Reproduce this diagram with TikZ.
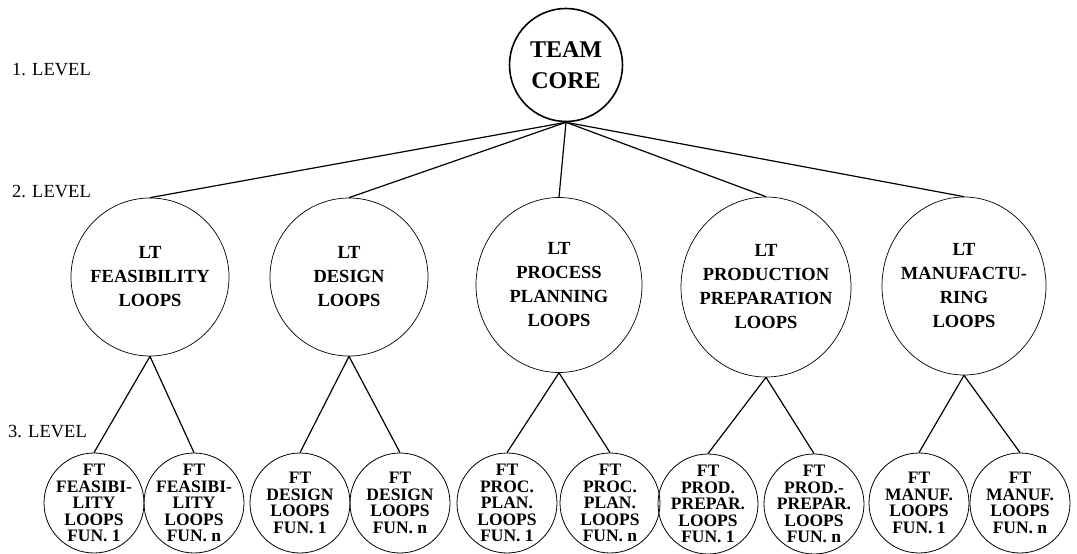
\documentclass[tikz,border=0pt]{standalone}
\usepackage{fontspec}
\setmainfont{Liberation Serif}
\usetikzlibrary{shapes.geometric, positioning}

\begin{document}
\begin{tikzpicture}[
			x=1pt, y=-1pt,
			coreblock/.style = {circle, draw, line width=1.6pt, minimum size=113pt,
					inner sep=0pt, align=center, font=\bfseries\fontsize{24}{31}\selectfont},
			ltblock/.style = {ellipse, draw, line width=0.7pt, inner sep=0pt, inner xsep=-20pt,
					align=center, font=\bfseries\fontsize{18.5}{24}\selectfont},
			ftblock/.style = {circle, draw, line width=0.8pt, minimum size=100pt,
					inner sep=-8pt, align=center, font=\bfseries\fontsize{17.5}{16.5}\selectfont},
			levellabel/.style = {anchor=west, inner sep=0pt, font=\fontsize{18.5}{22}\selectfont},
			line/.style = {draw, line width=1.2pt},
		]
		\useasboundingbox (0,0) rectangle (1077,554);

		% Level labels
		\node [levellabel] (lev1) at (12,70) {1. LEVEL};
		\node [levellabel] (lev2) at (12,192) {2. LEVEL};
		\node [levellabel] (lev3) at (8,432) {3. LEVEL};

		% Team core
		\node [coreblock] (core) at (566,65) {TEAM\\CORE};

		% LT loops
		\node [ltblock, minimum width=158pt, minimum height=158pt] (feas) at (150,277) {LT\\FEASIBILITY\\LOOPS};
		\node [ltblock, minimum width=158pt, minimum height=158pt] (design) at (349,277) {LT\\DESIGN\\LOOPS};
		\node [ltblock, minimum width=166pt, minimum height=175pt] (proc) at (559,285) {LT\\PROCESS\\PLANNING\\LOOPS};
		\node [ltblock, minimum width=170pt, minimum height=180pt] (prod) at (766,287) {LT\\PRODUCTION\\PREPARATION\\LOOPS};
		\node [ltblock, minimum width=164pt, minimum height=178pt] (manuf) at (964,286) {LT\\MANUFACTU-\\RING\\LOOPS};

		% FT loops
		\node [ftblock] (feasone) at (94,503) {FT\\FEASIBI-\\LITY\\LOOPS\\FUN. 1};
		\node [ftblock] (feasn) at (194,503) {FT\\FEASIBI-\\LITY\\LOOPS\\FUN. n};
		\node [ftblock] (designone) at (300,503) {FT\\DESIGN\\LOOPS\\FUN. 1};
		\node [ftblock] (designn) at (400,503) {FT\\DESIGN\\LOOPS\\FUN. n};
		\node [ftblock] (procone) at (507,503) {FT\\PROC.\\PLAN.\\LOOPS\\FUN. 1};
		\node [ftblock] (procn) at (610,503) {FT\\PROC.\\PLAN.\\LOOPS\\FUN. n};
		\node [ftblock] (prodone) at (708,504) {FT\\PROD.\\PREPAR.\\LOOPS\\FUN. 1};
		\node [ftblock] (prodn) at (814,504) {FT\\PROD.-\\PREPAR.\\LOOPS\\FUN. n};
		\node [ftblock] (manufone) at (919,503) {FT\\MANUF.\\LOOPS\\FUN. 1};
		\node [ftblock] (manufn) at (1020,503) {FT\\MANUF.\\LOOPS\\FUN. n};

		% Draw lines
		\foreach \i in {feas,design,proc,prod,manuf}
		\path [line] (core.south) -- (\i.north);
		\path [line] (feas.south) -- (feasone.north);
		\path [line] (feas.south) -- (feasn.north);
		\path [line] (design.south) -- (designone.north);
		\path [line] (design.south) -- (designn.north);
		\path [line] (proc.south) -- (procone.north);
		\path [line] (proc.south) -- (procn.north);
		\path [line] (prod.south) -- (prodone.north);
		\path [line] (prod.south) -- (prodn.north);
		\path [line] (manuf.south) -- (manufone.north);
		\path [line] (manuf.south) -- (manufn.north);
	\end{tikzpicture}
\end{document}
